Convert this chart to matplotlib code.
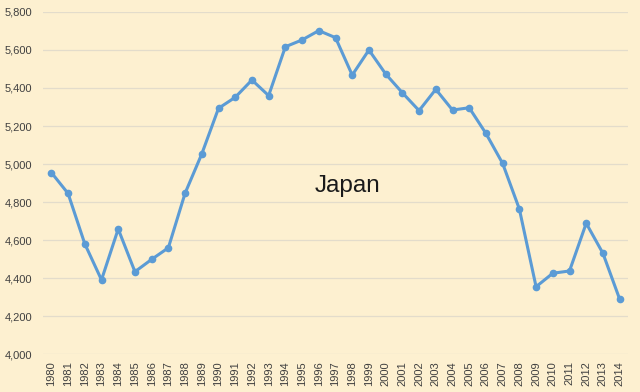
import matplotlib
matplotlib.use("Agg")
from matplotlib import pyplot as plt
from matplotlib.ticker import FuncFormatter

years = list(range(1980, 2015))
values = [4955, 4845, 4580, 4390, 4658, 4433, 4498, 4559, 4846, 5053,
          5293, 5351, 5442, 5360, 5617, 5653, 5702, 5665, 5468, 5600,
          5474, 5375, 5281, 5393, 5284, 5296, 5161, 5003, 4763, 4354,
          4425, 4437, 4688, 4530, 4289]
yticks = [4000, 4200, 4400, 4600, 4800, 5000, 5200, 5400, 5600, 5800]

bg = '#fdf0d0'
line_col = '#5b9bd5'

plt.rcParams['font.family'] = ['Liberation Sans', 'DejaVu Sans']

fig = plt.figure(figsize=(6.4, 3.92), dpi=100, facecolor=bg)
ax = fig.add_axes([43/640, 38/392, 585/640, 342/392])
ax.set_facecolor(bg)

ax.plot(years, values, color=line_col, lw=2.2, marker='o', ms=4.5)

ax.set_xlim(1979.5, 2014.5)
ax.set_ylim(4000, 5800)
ax.set_yticks(yticks)
ax.yaxis.set_major_formatter(FuncFormatter(lambda v, p: f'{int(v):,}'))
ax.set_xticks(years)
ax.set_xticklabels([str(y) for y in years], rotation=90)
ax.tick_params(axis='both', length=0, labelsize=8, colors='#404040')
ax.tick_params(axis='y', pad=8)
ax.tick_params(axis='x', pad=5)
ax.grid(axis='y', color='#e3dccb', lw=0.9)
ax.set_axisbelow(True)
for s in ax.spines.values():
    s.set_visible(False)

# chart label sits inside the plot area
ax.text(1997.75, 4884, 'Japan', fontsize=17.5, ha='center', va='center', color='#1a1a1a')

fig.savefig('out.png', dpi=100, facecolor=bg)
